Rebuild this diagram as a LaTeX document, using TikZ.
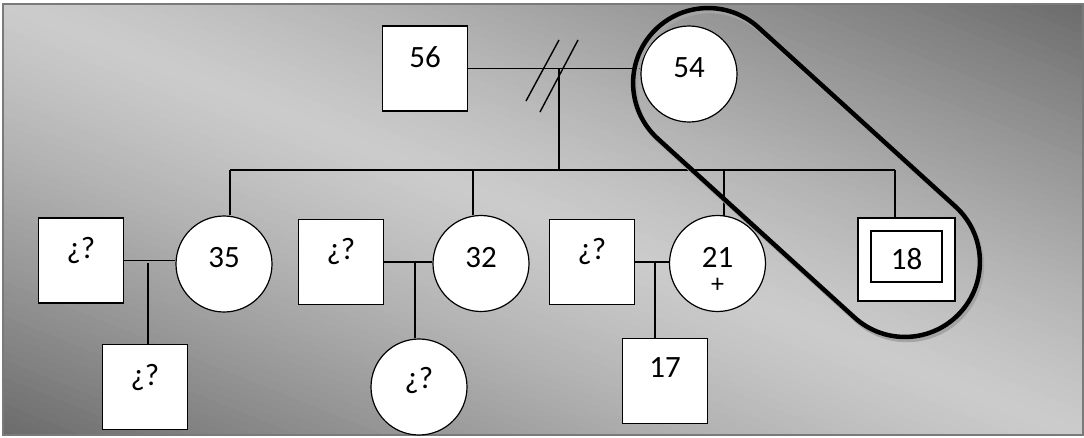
\documentclass[tikz,border=0pt]{standalone}
\usepackage{fontspec}
\setmainfont{Carlito}
\usetikzlibrary{shapes.misc}
\definecolor{bgdark}{HTML}{6A6A6A}
\definecolor{bglight}{HTML}{CBCBCB}
\definecolor{frame}{HTML}{7A7A7A}
\definecolor{shadowgray}{HTML}{A4A4A4}
\begin{document}
\begin{tikzpicture}[x=1pt,y=-1pt,
  lbl/.style={font=\fontsize{31}{36}\selectfont, inner sep=0pt},
  small/.style={font=\fontsize{26}{30}\selectfont, inner sep=0pt},
  sq/.style={draw, fill=white, line width=1.2pt, minimum size=85pt, inner sep=0pt},
  ci/.style={circle, draw, fill=white, line width=1.2pt, minimum size=96pt, inner sep=0pt},
  ln/.style={line width=1.4pt},
  ringstyle/.style={rounded rectangle, line width=4.5pt, minimum width=416pt, minimum height=150pt, inner sep=0pt, rotate=-42.27},
]
\useasboundingbox (0,0) rectangle (1084,437);
\fill[white] (0,0) rectangle (1084,437);
% diagonal gradient: light along the top-left/bottom-right diagonal, dark at the other two corners
\begin{scope}
\clip (3,4) rectangle (1083,435);
\foreach \i in {-50,...,49}{
  \pgfmathsetmacro{\ua}{\i/50}
  \pgfmathsetmacro{\ub}{(\i+1.3)/50}
  \pgfmathsetmacro{\p}{100*(1-abs((\i+0.5)/50)^1.25)}
  \fill[bglight!\p!bgdark]
    (-1084,{437*(-1-\ua)}) -- (2168,{437*(2-\ua)}) -- (2168,{437*(2-\ub)}) -- (-1084,{437*(-1-\ub)}) -- cycle;
}
\end{scope}
\draw[frame, line width=2pt] (3,4) rectangle (1083,435);

% generation I
\node[sq, label={[lbl,yshift=11pt]center:56}] (f56) at (425,68.5) {};
\node[ci, label={[lbl,yshift=6pt]center:54}] (m54) at (689,74) {};

% generation II
\node[sq, label={[lbl,yshift=10pt]center:¿?}] (s1) at (81,260.5) {};
\node[ci, label={[lbl,yshift=6pt]center:35}] (c35) at (224,264) {};
\node[sq, label={[lbl,yshift=10pt]center:¿?}] (s2) at (341,262) {};
\node[ci, label={[lbl,yshift=6pt]center:32}] (c32) at (481,263.5) {};
\node[sq, label={[lbl,yshift=10pt]center:¿?}] (s3) at (592,262) {};
\node[ci, label={[lbl,yshift=6pt]center:21}, label={[small,yshift=-22pt]center:+}] (c21) at (717.5,263.5) {};
\node[draw, fill=white, line width=1.2pt, minimum width=97pt, minimum height=83pt, inner sep=0pt] (p18o) at (906.5,259.5) {};
\node[draw, line width=1.2pt, minimum width=71pt, minimum height=51pt, inner sep=0pt] (p18) at (906.5,256.5) {};
\node[lbl] (t18) at (906.5,259) {18};

% generation III
\node[sq, label={[lbl,yshift=10pt]center:¿?}] (k1) at (145,387) {};
\node[ci, label={[lbl,yshift=7pt]center:¿?}] (k2) at (419,387) {};
\node[sq, label={[lbl,yshift=13pt]center:17}] (k3) at (665,381) {};

% couple 56 - 54 (divorced)
\draw[ln] (f56.east) -- (f56.east -| m54.west);
\coordinate (d0) at (559,68);
\coordinate (d1) at (559,170);
\draw[ln] (d0) -- (d1);
\draw[ln] (526,101) -- (559,40);
\draw[ln] (540,112) -- (578,40);

% sibship
\coordinate (sL) at (230,170);
\coordinate (sR) at (895,170);
\draw[ln] (sL) -- (sR);
\draw[ln] (sL) -- (sL |- c35.north);
\coordinate (b32) at (473,170);
\draw[ln] (b32) -- (b32 |- c32.north);
\coordinate (b21) at (724,170);
\draw[ln] (b21) -- ([yshift=-1pt]b21 |- c21.north);
\draw[ln] (sR) -- (sR |- p18o.north);

% couples of generation II
\draw[ln] (s1.east) -- (s1.east -| c35.west);
\coordinate (j1) at (148,263);
\draw[ln] (j1) -- (j1 |- k1.north);
\draw[ln] (s2.east) -- (s2.east -| c32.west);
\coordinate (j2) at (415,262);
\draw[ln] (j2) -- (j2 |- k2.north);
\draw[ln] (s3.east) -- (s3.east -| c21.west);
\coordinate (j3) at (655,262);
\draw[ln] (j3) -- (j3 |- k3.north);

% encircled group
\node[ringstyle, draw=shadowgray] (ringshadow) at (808.5,175.5) {};
\node[ringstyle, draw=black] (ring) at (806.5,172.5) {};
\end{tikzpicture}
\end{document}
